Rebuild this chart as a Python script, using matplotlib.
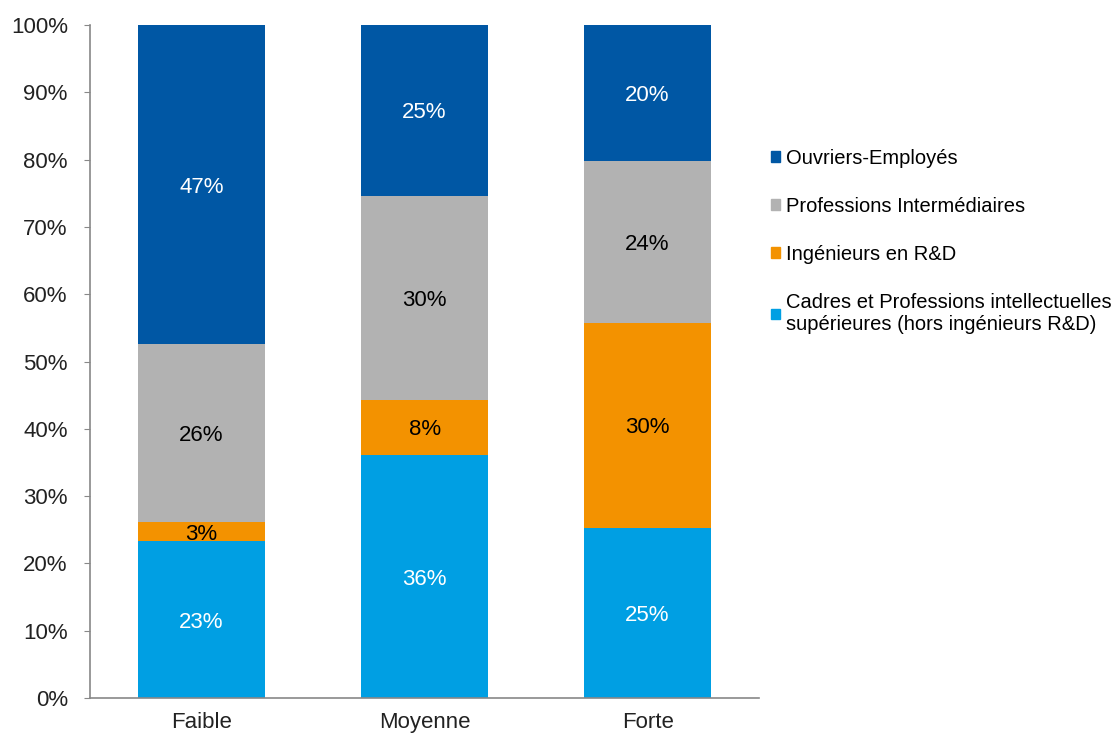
import matplotlib.pyplot as plt
from matplotlib.patches import Patch
from matplotlib.ticker import PercentFormatter

plt.rcParams['font.family'] = ['Liberation Sans', 'DejaVu Sans']

categories = ['Faible', 'Moyenne', 'Forte']
series = ['Cadres et Professions intellectuelles\nsupérieures (hors ingénieurs R&D)',
          'Ingénieurs en R&D',
          'Professions Intermédiaires',
          'Ouvriers-Employés']
cadres = [23.3, 36.1, 25.3]
ingenieurs = [2.8, 8.2, 30.4]
intermediaires = [26.5, 30.3, 24.1]
ouvriers = [47.4, 25.4, 20.2]
values = [cadres, ingenieurs, intermediaires, ouvriers]
colors = ['#009FE3', '#F39200', '#B2B2B2', '#0057A4']
text_colors = ['white', 'black', 'black', 'white']

fig = plt.figure(figsize=(11.17, 7.36), dpi=100)
ax = fig.add_axes([0.0806, 0.0516, 0.599, 0.9144])

x = range(len(categories))
bottom = [0, 0, 0]
for vals, col, tcol in zip(values, colors, text_colors):
    bars = ax.bar(x, vals, bottom=bottom, width=0.57, color=col)
    for i, b in enumerate(bars):
        ax.text(b.get_x() + b.get_width() / 2, bottom[i] + vals[i] / 2,
                '%d%%' % round(vals[i]), ha='center', va='center_baseline',
                color=tcol, fontsize=16)
    bottom = [b0 + v for b0, v in zip(bottom, vals)]

ax.set_xlim(-0.5, 2.5)
ax.set_ylim(0, 100)
ax.set_yticks(range(0, 101, 10))
ax.yaxis.set_major_formatter(PercentFormatter(decimals=0))
ax.set_xticks(list(x))
ax.set_xticklabels(categories)
ax.tick_params(axis='x', length=0, labelsize=16, pad=10, colors='#222222')
ax.tick_params(axis='y', length=4, color='#888888', labelsize=16, pad=12, labelcolor='#222222')
for s in ['top', 'right']:
    ax.spines[s].set_visible(False)
for s in ['left', 'bottom']:
    ax.spines[s].set_color('#888888')
    ax.spines[s].set_linewidth(1.2)

handles = [Patch(color=c) for c in colors[::-1]]
fig.legend(handles, series[::-1], loc='upper left', bbox_to_anchor=(0.683, 0.809),
           frameon=False, fontsize=14.5, handlelength=0.45, handleheight=0.45,
           handletextpad=0.3, labelspacing=1.45, borderaxespad=0)

fig.savefig('out.png', dpi=100)
